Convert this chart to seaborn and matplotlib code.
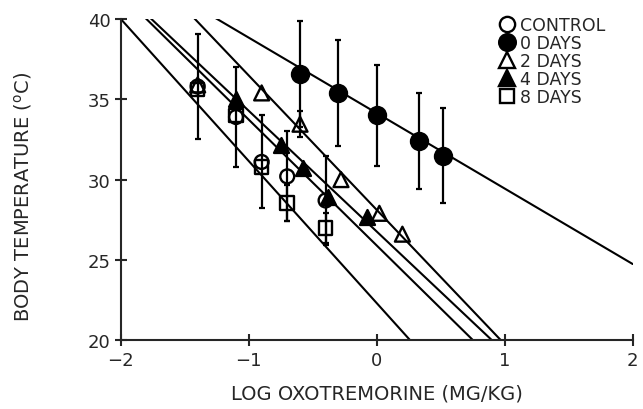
import numpy as np
import pandas as pd
import matplotlib
matplotlib.use("Agg")
import matplotlib.pyplot as plt
from matplotlib.lines import Line2D
import seaborn as sns

# ---------------- data ----------------
groups = ["CONTROL", "0 DAYS", "2 DAYS", "4 DAYS", "8 DAYS"]

control_x = [-1.4, -1.1, -0.9, -0.7, -0.4]
control_y = [35.8, 33.9, 31.1, 30.2, 28.7]
control_err = [3.3, 3.1, 2.9, 2.8, 2.8]

days0_x = [-0.6, -0.3, 0.0, 0.33, 0.52]
days0_y = [36.6, 35.4, 34.0, 32.4, 31.5]
days0_err = [3.3, 3.3, 3.15, 3.0, 2.95]

days2_x = [-1.4, -0.9, -0.6, -0.28, 0.02, 0.2]
days2_y = [35.9, 35.4, 33.45, 30.0, 27.9, 26.6]
days2_err = [0.0, 0.0, 0.8, 0.0, 0.0, 0.0]

days4_x = [-1.1, -0.75, -0.58, -0.38, -0.08]
days4_y = [35.0, 32.15, 30.7, 28.9, 27.65]
days4_err = [0.0, 0.0, 0.0, 0.0, 0.0]

days8_x = [-1.4, -1.1, -0.9, -0.7, -0.4]
days8_y = [35.6, 34.0, 30.8, 28.55, 27.0]
days8_err = [0.0, 0.0, 0.0, 1.1, 0.95]

# regression lines (slope, intercept)
fit_slope = [-7.84, -4.7, -8.37, -7.52, -8.85]
fit_intercept = [25.89, 34.14, 28.11, 26.76, 22.3]

x_ticks = [-2, -1, 0, 1, 2]
y_ticks = [20, 25, 30, 35, 40]
x_label = "LOG OXOTREMORINE (MG/KG)"
y_label = "BODY TEMPERATURE ($^{\\mathrm{o}}$C)"

# ---------------- build tables ----------------
series = {
    "CONTROL": (control_x, control_y, control_err),
    "0 DAYS": (days0_x, days0_y, days0_err),
    "2 DAYS": (days2_x, days2_y, days2_err),
    "4 DAYS": (days4_x, days4_y, days4_err),
    "8 DAYS": (days8_x, days8_y, days8_err),
}
rows = []
for g, (xs, ys, es) in series.items():
    for x, y, e in zip(xs, ys, es):
        rows.append({"group": g, "x": x, "y": y, "err": e})
df = pd.DataFrame(rows)

line_rows = []
for g, b, a in zip(groups, fit_slope, fit_intercept):
    for x in (x_ticks[0], x_ticks[-1]):
        line_rows.append({"group": g, "x": x, "y": a + b * x})
lines_df = pd.DataFrame(line_rows)

marker_style = {
    "CONTROL": dict(marker="o", fc="none", s=100, ms=11),
    "0 DAYS": dict(marker="o", fc="black", s=150, ms=12),
    "2 DAYS": dict(marker="^", fc="none", s=115, ms=11),
    "4 DAYS": dict(marker="^", fc="black", s=115, ms=11),
    "8 DAYS": dict(marker="s", fc="none", s=95, ms=10.5),
}

# ---------------- plot ----------------
sns.set_style("ticks")
plt.rcParams["font.family"] = ["DejaVu Sans"]

fig = plt.figure(figsize=(6.43, 4.10), dpi=100)
ax = fig.add_axes([0.188, 0.168, 0.796, 0.783])

sns.lineplot(data=lines_df, x="x", y="y", units="group", estimator=None,
             color="black", lw=1.5, ax=ax, legend=False)

for g in groups:
    sub = df[(df.group == g) & (df.err > 0)]
    if len(sub):
        ax.errorbar(sub.x, sub.y, yerr=sub.err, fmt="none", ecolor="black",
                    elinewidth=1.6, capsize=2.4, capthick=1.6, zorder=3)

for g in groups:
    sub = df[df.group == g]
    st = marker_style[g]
    sns.scatterplot(data=sub, x="x", y="y", marker=st["marker"], s=st["s"],
                    facecolor=st["fc"], edgecolor="black", linewidth=1.7,
                    ax=ax, zorder=4, legend=False)

ax.set_xlim(-2, 2)
ax.set_ylim(20, 40)
ax.set_xticks(x_ticks)
ax.set_yticks(y_ticks)
sns.despine(ax=ax)
for sp in ("left", "bottom"):
    ax.spines[sp].set_linewidth(1.5)
ax.tick_params(direction="inout", length=9, width=1.5, labelsize=13, pad=3)
ax.set_xlabel(x_label, fontsize=14)
ax.set_ylabel(y_label, fontsize=14)
ax.xaxis.set_label_coords(0.5, -0.135)
ax.yaxis.set_label_coords(-0.17, 0.45)

handles = []
for g in groups:
    st = marker_style[g]
    handles.append(Line2D([], [], ls="none", marker=st["marker"],
                          markerfacecolor=st["fc"],
                          markeredgecolor="black", markeredgewidth=1.7,
                          markersize=st["ms"]))
ax.legend(handles, groups, loc="upper left", bbox_to_anchor=(0.723, 1.03),
          frameon=False, fontsize=12.5, handletextpad=0.3, labelspacing=0.0,
          borderaxespad=0, handlelength=1.0)

fig.savefig("out.png", dpi=100)
